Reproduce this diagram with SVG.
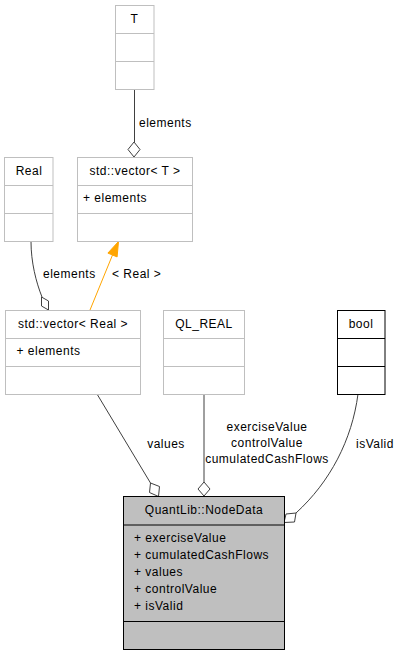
<svg xmlns="http://www.w3.org/2000/svg" width="401" height="656" viewBox="0 0 401 656">
<style>
text{font-family:"Liberation Sans",Arial,sans-serif;font-size:12px;letter-spacing:0.5px;fill:#000}
.c{text-anchor:middle}
.box{fill:#fff;stroke:#bfbfbf;stroke-width:1}
.bb{fill:#fff;stroke:#000;stroke-width:1}
.main{fill:#bfbfbf;stroke:#000;stroke-width:1}
.e{fill:none;stroke:#404040;stroke-width:1}
.d{fill:#fff;stroke:#404040;stroke-width:1}
</style>
<rect width="401" height="656" fill="#fff"/>
<g id="connectors">
<path class="e" d="M134.5,89.5 L134.5,142"/>
<polygon class="d" points="134,142 140,149.5 134,157 128,149.5"/>
<text x="139" y="127">elements</text>
<path class="e" d="M31,241.5 C31,262 36,282 42,297"/>
<polygon class="d" points="41.5,297 48.5,301 48.5,310 41.5,306"/>
<text x="43" y="278">elements</text>
<path d="M90,310 L112.5,255" fill="none" stroke="#ffa500" stroke-width="1"/>
<polygon points="118.5,241.5 107.9,253.1 117.1,256.9" fill="#ffa500" stroke="#ffa500"/>
<text x="112" y="278">&lt; Real &gt;</text>
<path class="e" d="M97,394 L150.5,483"/>
<polygon class="d" points="150.5,483 159.5,486.5 158.5,496.5 149.5,492.5"/>
<text x="166" y="448" class="c">values</text>
<path class="e" d="M204,394 L204,482"/>
<polygon class="d" points="204,482 210,489 204,496 198,489"/>
<text x="267" y="431" class="c">exerciseValue</text>
<text x="267" y="447" class="c">controlValue</text>
<text x="267" y="463" class="c">cumulatedCashFlows</text>
<path class="e" d="M358,394 C352,440 330,482 296,513"/>
<polygon class="d" points="296,513 294.5,522 284,522.5 286,514"/>
<text x="356" y="448">isValid</text>
</g>
<g id="T">
<rect class="box" x="115.5" y="5.5" width="38.5" height="84"/>
<line class="box" x1="115.5" y1="33.5" x2="154" y2="33.5"/>
<line class="box" x1="115.5" y1="61.5" x2="154" y2="61.5"/>
<text x="134.5" y="22.5" class="c">T</text>
</g>
<g id="vectorT">
<rect class="box" x="77.5" y="157.5" width="115" height="84"/>
<line class="box" x1="77.5" y1="185.5" x2="192.5" y2="185.5"/>
<line class="box" x1="77.5" y1="213.5" x2="192.5" y2="213.5"/>
<text x="135" y="174.5" class="c">std::vector&lt; T &gt;</text>
<text x="83" y="202">+ elements</text>
</g>
<g id="Real">
<rect class="box" x="4.5" y="157.5" width="48.5" height="84"/>
<line class="box" x1="4.5" y1="185.5" x2="53" y2="185.5"/>
<line class="box" x1="4.5" y1="213.5" x2="53" y2="213.5"/>
<text x="29" y="174.5" class="c">Real</text>
</g>
<g id="vectorReal">
<rect class="box" x="5.5" y="310.5" width="135" height="84"/>
<line class="box" x1="5.5" y1="338.5" x2="140.5" y2="338.5"/>
<line class="box" x1="5.5" y1="366.5" x2="140.5" y2="366.5"/>
<text x="73" y="327.5" class="c">std::vector&lt; Real &gt;</text>
<text x="16.5" y="355">+ elements</text>
</g>
<g id="QL_REAL">
<rect class="box" x="163.5" y="310.5" width="81" height="84"/>
<line class="box" x1="163.5" y1="338.5" x2="244.5" y2="338.5"/>
<line class="box" x1="163.5" y1="366.5" x2="244.5" y2="366.5"/>
<text x="204" y="327.5" class="c">QL_REAL</text>
</g>
<g id="bool">
<rect class="bb" x="337.5" y="310.5" width="47.5" height="84"/>
<line class="bb" x1="337.5" y1="338.5" x2="385" y2="338.5"/>
<line class="bb" x1="337.5" y1="366.5" x2="385" y2="366.5"/>
<text x="361" y="327.5" class="c">bool</text>
</g>
<g id="NodeData">
<rect class="main" x="123.5" y="496.5" width="161" height="153"/>
<line class="main" x1="123.5" y1="525" x2="284.5" y2="525"/>
<line class="main" x1="123.5" y1="621.5" x2="284.5" y2="621.5"/>
<text x="204" y="514" class="c">QuantLib::NodeData</text>
<text x="134" y="541.5">+ exerciseValue</text>
<text x="134" y="558.5">+ cumulatedCashFlows</text>
<text x="134" y="575.5">+ values</text>
<text x="134" y="592.5">+ controlValue</text>
<text x="134" y="609.5">+ isValid</text>
</g>
</svg>
